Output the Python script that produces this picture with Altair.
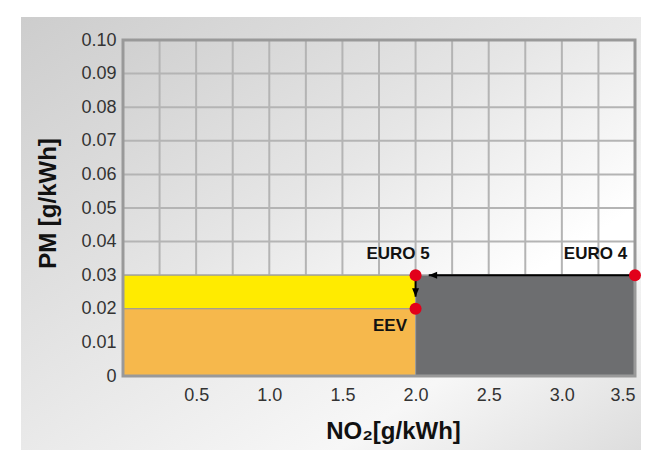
import altair as alt
import pandas as pd

# ---------------- data ----------------
x_ticks = [0.5, 1.0, 1.5, 2.0, 2.5, 3.0, 3.5]
y_ticks = [0, 0.01, 0.02, 0.03, 0.04, 0.05, 0.06, 0.07, 0.08, 0.09, 0.10]
x_grid = [0.25, 0.5, 0.75, 1.0, 1.25, 1.5, 1.75, 2.0, 2.25, 2.5, 2.75, 3.0, 3.25]
y_grid = [0.01, 0.02, 0.03, 0.04, 0.05, 0.06, 0.07, 0.08, 0.09]
x_domain = [0, 3.5]
y_domain = [0, 0.10]

zone_names = ["EURO 4 zone", "EURO 5 zone", "EEV zone"]
zone_x0 = [2.0, 0.0, 0.0]
zone_x1 = [3.5, 2.0, 2.0]
zone_y0 = [0.0, 0.02, 0.0]
zone_y1 = [0.03, 0.03, 0.02]
zone_colors = ["#6d6e70", "#ffeb00", "#f6b84c"]

point_x = [3.5, 2.0, 2.0]
point_y = [0.03, 0.03, 0.02]

label_text = ["EURO 5", "EURO 4", "EEV"]
label_x = [1.88, 3.23, 1.825]
label_y = [0.0363, 0.0363, 0.0149]

arrow_h_x = [3.5]
arrow_h_x2 = [2.09]
arrow_h_y = [0.03]
arrow_v_x = [2.0]
arrow_v_y = [0.03]
arrow_v_y2 = [0.0236]

W, H = 512, 336
FONT = "Liberation Sans"

xs = alt.Scale(domain=x_domain, nice=False, zero=False)
ys = alt.Scale(domain=y_domain, nice=False, zero=False)

x_axis = alt.Axis(
    title="NO₂[g/kWh]", values=x_ticks, format=".1f", grid=False, ticks=False, domain=False,
    labelFont=FONT, labelFontSize=18, labelColor="#333333", labelPadding=10, zindex=1,
    titleFont=FONT, titleFontSize=24, titleFontWeight="bold", titleColor="#111111",
    titleX=270, titleY=55, titleBaseline="middle", titleAlign="center")
y_axis = alt.Axis(
    title="PM [g/kWh]", values=y_ticks, grid=False, ticks=False, domain=False,
    labelExpr="datum.value == 0 ? '0' : format(datum.value, '.2f')", zindex=1,
    labelFont=FONT, labelFontSize=18, labelColor="#333333", labelPadding=7,
    titleFont=FONT, titleFontSize=24, titleFontWeight="bold", titleColor="#111111",
    titleX=-75, titleY=163, titleAngle=270, titleBaseline="middle", titleAlign="center")


def X(f):
    return alt.X(f, scale=xs, axis=x_axis)


def Y(f):
    return alt.Y(f, scale=ys, axis=y_axis)


# outer decorative box
outer = alt.Chart(pd.DataFrame({"a": [0]})).mark_rect(
    fill=alt.Gradient(
        gradient="linear", x1=0, y1=0, x2=1, y2=1,
        stops=[alt.GradientStop(color="#cdcdcd", offset=0),
               alt.GradientStop(color="#ececec", offset=0.55),
               alt.GradientStop(color="#f7f7f7", offset=0.75),
               alt.GradientStop(color="#dcdcdc", offset=1)]
    )
).encode(x=alt.value(-102), x2=alt.value(530), y=alt.value(-23), y2=alt.value(410))

bounds_df = pd.DataFrame({"x0": [x_domain[0]], "x1": [x_domain[1]],
                          "y0": [y_domain[0]], "y1": [y_domain[1]]})

plot_bg = alt.Chart(bounds_df).mark_rect(
    fill=alt.Gradient(
        gradient="linear", x1=0, y1=0, x2=1, y2=1,
        stops=[alt.GradientStop(color="#d0d0d0", offset=0),
               alt.GradientStop(color="#e6e6e6", offset=0.4),
               alt.GradientStop(color="#ffffff", offset=0.75),
               alt.GradientStop(color="#ffffff", offset=1)]
    )
).encode(x=X("x0:Q"), x2="x1:Q", y=Y("y0:Q"), y2="y1:Q")

gx = alt.Chart(pd.DataFrame({"xg": x_grid})).mark_rule(color="#b4b4b4", strokeWidth=2).encode(
    x=X("xg:Q"), y=alt.value(0), y2=alt.value(H))
gy = alt.Chart(pd.DataFrame({"yg": y_grid})).mark_rule(color="#b4b4b4", strokeWidth=2).encode(
    y=Y("yg:Q"), x=alt.value(0), x2=alt.value(W))

zones_df = pd.DataFrame({"zone": zone_names, "x0": zone_x0, "x1": zone_x1,
                         "y0": zone_y0, "y1": zone_y1})
zones = alt.Chart(zones_df).mark_rect(stroke="#9a9a9a", strokeWidth=1).encode(
    x=X("x0:Q"), x2="x1:Q", y=Y("y0:Q"), y2="y1:Q",
    fill=alt.Fill("zone:N", scale=alt.Scale(domain=zone_names, range=zone_colors), legend=None),
)

frame = alt.Chart(bounds_df).mark_rect(
    fill=None, fillOpacity=0, stroke="#999999", strokeWidth=3).encode(
    x=X("x0:Q"), x2="x1:Q", y=Y("y0:Q"), y2="y1:Q")

ah_df = pd.DataFrame({"x": arrow_h_x, "x2": arrow_h_x2, "y": arrow_h_y})
arrow_h = alt.Chart(ah_df).mark_rule(color="black", strokeWidth=2).encode(
    x=X("x:Q"), x2="x2:Q", y=Y("y:Q"))
head_h = alt.Chart(ah_df).mark_point(shape="M0,0L2.4,-1L2.4,1Z", filled=True, fill="black",
                                     stroke=None, size=49, opacity=1).encode(
    x=X("x2:Q"), y=Y("y:Q"))

av_df = pd.DataFrame({"x": arrow_v_x, "y": arrow_v_y, "y2": arrow_v_y2})
arrow_v = alt.Chart(av_df).mark_rule(color="black", strokeWidth=2).encode(
    x=X("x:Q"), y=Y("y:Q"), y2="y2:Q")
head_v = alt.Chart(av_df).mark_point(shape="M0,0L-1,-2.4L1,-2.4Z", filled=True, fill="black",
                                     stroke=None, size=49, opacity=1).encode(
    x=X("x:Q"), y=Y("y2:Q"))

points = alt.Chart(pd.DataFrame({"x": point_x, "y": point_y})).mark_point(
    shape="circle", filled=True, fill="#e2001a", stroke=None, size=144, opacity=1).encode(
    x=X("x:Q"), y=Y("y:Q"))

labels = alt.Chart(pd.DataFrame({"t": label_text, "x": label_x, "y": label_y})).mark_text(
    font=FONT, fontSize=17, fontWeight="bold", color="#111111", align="center", baseline="middle").encode(
    x=X("x:Q"), y=Y("y:Q"), text="t:N")

chart = alt.layer(outer, plot_bg, gx, gy, zones, frame, arrow_h, head_h, arrow_v, head_v,
                  points, labels).properties(
    width=W, height=H,
    autosize=alt.AutoSizeParams(type="none"),
    padding={"left": 115, "top": 32, "right": 6, "bottom": 74},
).configure_view(stroke=None)

chart.save("out.html", embed_options={"renderer": "svg", "actions": False})
